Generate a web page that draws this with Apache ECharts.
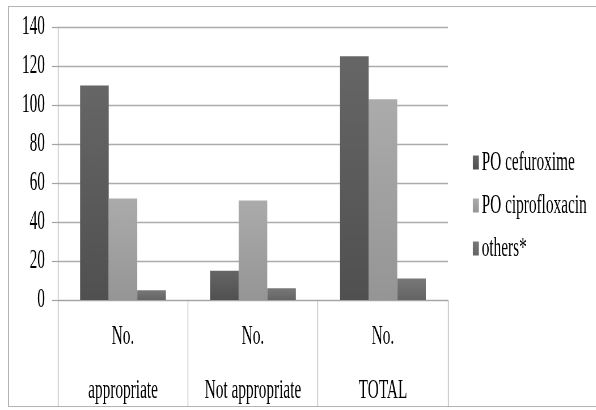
<!DOCTYPE html>
<html>
<head>
<meta charset="utf-8">
<script src="https://cdn.jsdelivr.net/npm/echarts@6/dist/echarts.min.js"></script>
<style>
  html, body { margin: 0; padding: 0; background: #fff; }
  #wrap { position: relative; width: 596px; height: 410px; overflow: hidden; background: #fff; }
  #frame { position: absolute; left: 8px; top: 6px; width: 620px; height: 401px; border: 1px solid #b4b4b4; box-sizing: border-box; }
  #chart { position: absolute; left: 0; top: 0; height: 410px; transform-origin: 0 0; }
</style>
</head>
<body>
<div id="wrap">
  <div id="frame"></div>
  <div id="chart"></div>
</div>
<script>
// Oral antibiotic prescriptions by appropriateness
const categories = ['No.\nappropriate', 'No.\nNot appropriate', 'No.\nTOTAL'];
const seriesNames = ['PO cefuroxime', 'PO ciprofloxacin', 'others*'];
const cefuroxime = [110, 15, 125];
const ciprofloxacin = [52, 51, 103];
const others = [5, 6, 11];
const yTicks = { min: 0, max: 140, interval: 20 };

// The chart is laid out wide, then squeezed horizontally for its condensed look.
const SQUEEZE = 0.567;
const W = 596 / SQUEEZE;
const el = document.getElementById('chart');
el.style.width = W + 'px';
el.style.transform = 'scaleX(' + SQUEEZE + ')';
const px = v => v / SQUEEZE;   // on-screen horizontal px -> layout px

const FONT = '"Liberation Serif", serif';
const FS = 27;
const grad = (top, bottom) => new echarts.graphic.LinearGradient(0, 0, 0, 1, [
  { offset: 0, color: top }, { offset: 1, color: bottom }
]);
const colors = [grad('#666666', '#505050'), grad('#ababab', '#959595'), grad('#787878', '#646464')];
const lineGray = '#a4a4a4';

const chart = echarts.init(el, null, { renderer: 'canvas' });
chart.setOption({
  animation: false,
  backgroundColor: 'transparent',
  textStyle: { fontFamily: FONT },
  grid: {
    left: px(58), right: px(596 - 448), top: 27, bottom: 110,
    containLabel: false, outerBoundsMode: 'none'
  },
  legend: {
    orient: 'vertical',
    left: px(470),
    top: 144,
    itemWidth: px(6),
    itemHeight: 14,
    itemGap: 16,
    icon: 'rect',
    textStyle: { fontFamily: FONT, fontSize: FS, color: '#000' },
    data: seriesNames
  },
  xAxis: {
    type: 'category',
    data: categories,
    axisLine: { lineStyle: { color: lineGray, width: 1.2 } },
    axisTick: { show: true, length: 107, interval: 0, lineStyle: { color: lineGray, width: 1.2 } },
    axisLabel: { interval: 0, margin: 10, lineHeight: 54, fontFamily: FONT, fontSize: FS, color: '#000' }
  },
  yAxis: {
    type: 'value',
    min: yTicks.min,
    max: yTicks.max,
    interval: yTicks.interval,
    axisLine: { show: true, lineStyle: { color: lineGray, width: 1.2 } },
    axisTick: { show: true, length: px(6), lineStyle: { color: lineGray, width: 1.2 } },
    axisLabel: { margin: px(13), fontFamily: FONT, fontSize: FS, color: '#000' },
    splitLine: { lineStyle: { color: '#acacac', width: 1.4 } }
  },
  series: [
    { name: seriesNames[0], type: 'bar', data: cefuroxime, barGap: '0%', barCategoryGap: '34%', itemStyle: { color: colors[0] } },
    { name: seriesNames[1], type: 'bar', data: ciprofloxacin, itemStyle: { color: colors[1] } },
    { name: seriesNames[2], type: 'bar', data: others, itemStyle: { color: colors[2] } }
  ]
});
</script>
</body>
</html>
